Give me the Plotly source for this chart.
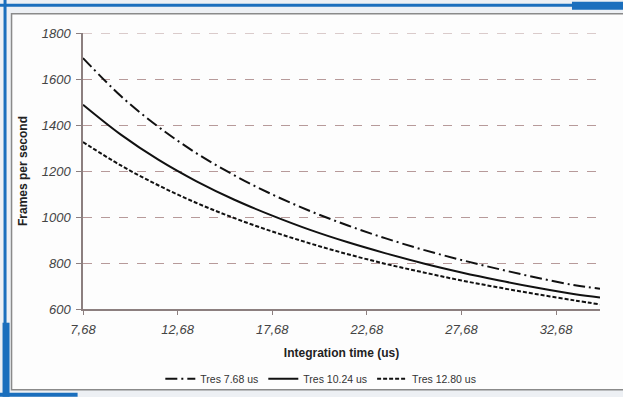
import plotly.graph_objects as go

# Integration time (us)
t_int = [7.68, 9.68, 11.68, 13.68, 15.68, 17.68, 19.68, 21.68, 23.68, 25.68,
         27.68, 29.68, 31.68, 33.68, 35.0]
# Frames per second
fps_tres_768 = [1691, 1526, 1391, 1277, 1181, 1098, 1026, 963, 907, 857,
                813, 773, 736, 703, 688]
fps_tres_1024 = [1488, 1358, 1248, 1155, 1075, 1006, 944, 890, 842, 798,
                 759, 724, 692, 664, 650]
fps_tres_1280 = [1326, 1224, 1137, 1061, 995, 937, 885, 838, 796, 759,
                 724, 693, 664, 637, 620]

series_names = ["Tres 7.68 us", "Tres 10.24 us", "Tres 12.80 us"]
x_tick_vals = [7.68, 12.68, 17.68, 22.68, 27.68, 32.68]
x_tick_text = ["7,68", "12,68", "17,68", "22,68", "27,68", "32,68"]
y_tick_vals = [600, 800, 1000, 1200, 1400, 1600, 1800]

FONT = "Liberation Sans, Arial, sans-serif"

fig = go.Figure()
fig.add_trace(go.Scatter(x=t_int, y=fps_tres_768, name=series_names[0], mode="lines",
                         line=dict(color="#111111", width=2, dash="12px,4px,2px,4px", shape="spline")))
fig.add_trace(go.Scatter(x=t_int, y=fps_tres_1024, name=series_names[1], mode="lines",
                         line=dict(color="#111111", width=2, shape="spline")))
fig.add_trace(go.Scatter(x=t_int, y=fps_tres_1280, name=series_names[2], mode="lines",
                         line=dict(color="#111111", width=2, dash="4px,2px", shape="spline")))

def px_x(px):
    return (px - 83.4) / 516.6

def px_y(py):
    return (309.3 - py) / 276.0

blue = "#1b6fbd"

def blue_rect(x0, y0, x1, y1):
    return dict(type="rect", xref="paper", yref="paper", x0=px_x(x0), x1=px_x(x1),
                y0=px_y(y1), y1=px_y(y0), fillcolor=blue, line=dict(width=0), layer="above")

shapes = [
    # chart frame
    dict(type="rect", xref="paper", yref="paper", x0=px_x(12), x1=px_x(628),
         y0=px_y(390), y1=px_y(14), fillcolor="#fdfdfd",
         line=dict(color="#8a8a8a", width=1.5), layer="below"),
    # top gridline at 1800
    dict(type="line", xref="paper", yref="y", x0=0, x1=1, y0=1800, y1=1800,
         line=dict(color="#b79a9a", width=1, dash="dash"), layer="below"),
    # blue decorations
    blue_rect(0, 4, 623, 7),
    blue_rect(572, 2, 623, 10),
    blue_rect(4, 0, 7, 324),
    blue_rect(3, 323, 10, 397),
    blue_rect(0, 393, 78, 397),
]

fig.update_layout(
    width=623, height=397,
    margin=dict(l=83, r=23, t=33, b=88, autoexpand=False),
    paper_bgcolor="#edf0f4",
    plot_bgcolor="rgba(0,0,0,0)",
    font=dict(family=FONT, color="#333333"),
    shapes=shapes,
    showlegend=True,
    legend=dict(orientation="h", x=0.46, xanchor="center", y=px_y(379), yanchor="middle",
                font=dict(size=10.5, color="#333333"), bgcolor="rgba(0,0,0,0)",
                itemwidth=30, tracegroupgap=0),
    xaxis=dict(
        range=[7.68, 35.0], tickvals=x_tick_vals, ticktext=x_tick_text,
        showgrid=False, zeroline=False,
        showline=True, linecolor="#8c7f7f", linewidth=1.5,
        ticks="outside", ticklen=4, tickcolor="#8c7f7f",
        ticklabelstandoff=4,
        tickfont=dict(size=13, style="italic", color="#444444"),
        title=dict(text="<b>Integration time (us)</b>", font=dict(size=12, color="#222222"), standoff=12),
    ),
    yaxis=dict(
        range=[600, 1800], tickvals=y_tick_vals,
        showgrid=True, gridcolor="#b79a9a", gridwidth=1, griddash="dash",
        zeroline=False,
        showline=True, linecolor="#8c7f7f", linewidth=1.5,
        ticks="outside", ticklen=5, tickcolor="#8c7f7f",
        ticklabelstandoff=3,
        tickfont=dict(size=13, style="italic", color="#444444"),
        title=dict(text="<b>Frames per second</b>", font=dict(size=12, color="#222222"), standoff=12),
    ),
)

fig.write_html("out.html", config={"displayModeBar": False},
               post_script="document.body.style.margin='0';document.body.style.padding='0';")
